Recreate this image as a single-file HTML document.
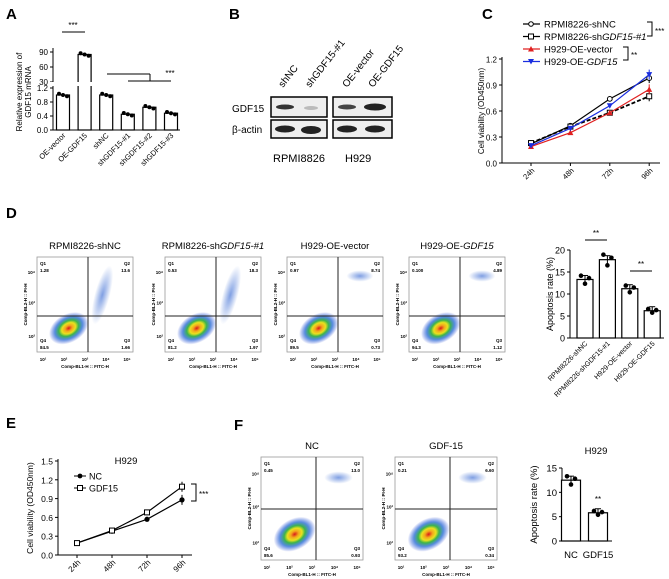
<!DOCTYPE html>
<html><head><meta charset="utf-8"><style>
html,body{margin:0;padding:0;background:#fff}
svg{display:block;font-family:"Liberation Sans",Arial,sans-serif}
</style></head><body>
<svg id="fig" width="669" height="579" viewBox="0 0 669 579">
<defs>
<radialGradient id="heat" cx="50%" cy="50%" r="50%">
<stop offset="0" stop-color="#d7191c"/><stop offset="0.18" stop-color="#f4a51c"/><stop offset="0.35" stop-color="#e8e21f"/><stop offset="0.5" stop-color="#3cb44b"/><stop offset="0.7" stop-color="#2b6fd6" stop-opacity="0.8"/><stop offset="1" stop-color="#2b4bd6" stop-opacity="0"/>
</radialGradient>
<radialGradient id="blue" cx="50%" cy="50%" r="50%">
<stop offset="0" stop-color="#2a5fd0" stop-opacity="0.6"/><stop offset="1" stop-color="#2a5fd0" stop-opacity="0"/>
</radialGradient>
</defs>
<g font-weight="bold" font-size="15">
<text x="6" y="19">A</text>
<text x="229" y="19">B</text>
<text x="482" y="19">C</text>
<text x="6" y="218">D</text>
<text x="6" y="428">E</text>
<text x="234" y="430">F</text>
</g>
<g id="pA"></g>
<g id="pB">
<g font-size="10" fill="#000">
<text transform="translate(283,88) rotate(-52)">shNC</text>
<text transform="translate(310,88) rotate(-52)">shGDF15-#1</text>
<text transform="translate(347,88) rotate(-52)">OE-vector</text>
<text transform="translate(373,88) rotate(-52)">OE-GDF15</text>
<text x="232" y="112">GDF15</text>
<text x="232" y="133">β-actin</text>
<text x="273" y="162" font-size="11">RPMI8826</text>
<text x="345" y="162" font-size="11">H929</text>
</g>
<rect x="271" y="97" width="56" height="20" fill="#eee" stroke="#000" stroke-width="1.5"/>
<rect x="271" y="120" width="56" height="18" fill="#eee" stroke="#000" stroke-width="1.5"/>
<rect x="333" y="97" width="59" height="20" fill="#eee" stroke="#000" stroke-width="1.5"/>
<rect x="333" y="120" width="59" height="18" fill="#eee" stroke="#000" stroke-width="1.5"/>
<ellipse cx="285" cy="107" rx="9" ry="2.5" fill="#333"/>
<ellipse cx="311" cy="108" rx="7" ry="2" fill="#bbb"/>
<ellipse cx="285" cy="129" rx="10" ry="3.5" fill="#222"/>
<ellipse cx="311" cy="130" rx="10" ry="4" fill="#222"/>
<ellipse cx="347" cy="107" rx="9" ry="2.5" fill="#444"/>
<ellipse cx="375" cy="107" rx="11" ry="3.5" fill="#222"/>
<ellipse cx="347" cy="129" rx="10" ry="3.5" fill="#222"/>
<ellipse cx="375" cy="129" rx="10" ry="3.5" fill="#222"/>
</g>
<g id="pC"></g>
<g id="pD"></g>
<g id="pD2"></g>
<g id="pE"></g>
<g id="pF"></g>
<g id="pF2"></g>
</svg>
<script>
// Panel A data
const aCats=["OE-vector","OE-GDF15","shNC","shGDF15-#1","shGDF15-#2","shGDF15-#3"];
const aVals=[1.0,85,1.0,0.45,0.65,0.48];
const aLowTicks=[0,0.4,0.8,1.2];
const aHighTicks=[30,60,90];
// Panel C data
const cTimes=["24h","48h","72h","96h"];
const cShNC=[0.22,0.43,0.74,0.98];
const cShGDF=[0.23,0.42,0.58,0.77];
const cVector=[0.19,0.35,0.58,0.85];
const cOE=[0.20,0.40,0.66,1.02];
const cTicks=[0,0.3,0.6,0.9,1.2];
// Panel D bar data
const dCats=["RPMI8226-shNC","RPMI8226-shGDF15-#1","H929-OE-vector","H929-OE-GDF15"];
const dVals=[13.3,17.8,11.2,6.2];
const dTicks=[0,5,10,15,20];
// Panel E data
const eTimes=["24h","48h","72h","96h"];
const eNC=[0.19,0.38,0.57,0.88];
const eGDF=[0.19,0.39,0.68,1.09];
const eTicks=[0,0.3,0.6,0.9,1.2,1.5];
// Panel F bar data
const fCats=["NC","GDF15"];
const fVals=[12.5,5.8];
const fTicks=[0,5,10,15];
// flow quadrant values
const dFlow=[["1.28","13.6","84.5","1.66"],["0.53","18.3","81.2","1.97"],["0.97","8.74","89.5","0.73"],["0.100","4.89","94.3","1.12"]];
const fFlow=[["0.45","13.0","85.6","0.93"],["0.21","6.60","93.2","0.34"]];

const NS="http://www.w3.org/2000/svg";
function mk(p,t,a,txt){const e=document.createElementNS(NS,t);for(const k in a)e.setAttribute(k,a[k]);if(txt!==undefined)e.textContent=txt;p.appendChild(e);return e;}
function line(p,x1,y1,x2,y2,c,w,d){const e=mk(p,"line",{x1,y1,x2,y2,stroke:c||"#000","stroke-width":w||1});if(d)e.setAttribute("stroke-dasharray",d);return e;}

// ---------- Panel A
(function(){
const g=document.getElementById("pA");
const ax=53, yl=v=>130-v*35, yh=v=>82-(v-30)*15/30*1.0;
const xs=i=>63+i*21.6;
line(g,ax,86,ax,130);line(g,ax,48,ax,82);
line(g,ax,130,180,130);
aLowTicks.forEach(t=>{line(g,ax-3,yl(t),ax,yl(t));const e=mk(g,"text",{x:ax-5,y:yl(t)+3,"font-size":8,"text-anchor":"end"},t.toFixed(1));});
aHighTicks.forEach(t=>{line(g,ax-3,yh(t),ax,yh(t));const e=mk(g,"text",{x:ax-5,y:yh(t)+3,"font-size":8,"text-anchor":"end"},t);});
const yt=mk(g,"text",{transform:"translate(22,92) rotate(-90)","font-size":8,"text-anchor":"middle"},"Relative expression of");

const yt2=mk(g,"text",{transform:"translate(31,92) rotate(-90)","font-size":8,"text-anchor":"middle"},"GDF15 mRNA");

aVals.forEach((v,i)=>{const x=xs(i);let top=v>1.2?yh(v):yl(v);
const r=mk(g,"rect",{x:x-6.5,y:top,width:13,height:130-top,fill:"#fff",stroke:"#000","stroke-width":1.2});

if(v>1.2){mk(g,"rect",{x:x-8,y:82,width:16,height:4,fill:"#fff"});}
[-4,0,4].forEach((dx,k)=>mk(g,"circle",{cx:x+dx,cy:top+(k-1)*1.2,r:2,fill:"#000"}));
const lb=mk(g,"text",{transform:`translate(${x+3},136) rotate(-45)`,"font-size":7.5,"text-anchor":"end"},aCats[i]);
});
mk(g,"rect",{x:ax-3,y:82,width:6,height:4,fill:"#fff"});
line(g,62,32,85,32);mk(g,"text",{x:73,y:28,"font-size":8,"text-anchor":"middle"},"***");
line(g,107,74,150,74);line(g,150,74,150,81);line(g,128,81,171,81);
mk(g,"text",{x:170,y:76,"font-size":8,"text-anchor":"middle"},"***");
})();

// ---------- line chart helper
function lineChart(g,cfg){
const {ax,y0,ymax,vmax,xs,ticks,cats}=cfg;const y=v=>y0-(v/vmax)*(y0-ymax);
line(g,ax,ymax-2,ax,y0);line(g,ax,y0,cfg.xend,y0);
ticks.forEach(t=>{line(g,ax-3,y(t),ax,y(t));const e=mk(g,"text",{x:ax-5,y:y(t)+3.5,"font-size":cfg.fs,"text-anchor":"end"},t.toFixed(1));});
cats.forEach((c,i)=>{line(g,xs(i),y0,xs(i),y0+3);const e=mk(g,"text",{transform:`translate(${xs(i)+4},${y0+8}) rotate(-45)`,"font-size":cfg.fs-0.5,"text-anchor":"end"},c);});
const t=mk(g,"text",{transform:`translate(${cfg.ytx},${(y0+ymax)/2}) rotate(-90)`,"font-size":cfg.fs,"text-anchor":"middle"},"Cell viability ("+cfg.unit+")");

cfg.series.forEach(s=>{const pts=s.v.map((v,i)=>xs(i)+","+y(v)).join(" ");
const pl=mk(g,"polyline",{points:pts,fill:"none",stroke:s.c,"stroke-width":s.w||1.2});if(s.d)pl.setAttribute("stroke-dasharray",s.d);

s.v.forEach((v,i)=>{const cx=xs(i),cy=y(v);line(g,cx,cy-(i==3?5:1.5),cx,cy+(i==3?5:1.5),s.c,1);
let m;if(s.m=="o")m=mk(g,"circle",{cx,cy,r:2.4,fill:"#fff",stroke:s.c});
else if(s.m=="sq")m=mk(g,"rect",{x:cx-2.5,y:cy-2.5,width:5,height:5,fill:"#fff",stroke:s.c});
else if(s.m=="dot")m=mk(g,"circle",{cx,cy,r:2.6,fill:s.c});
else if(s.m=="tri")m=mk(g,"polygon",{points:`${cx},${cy-3} ${cx-3},${cy+2.5} ${cx+3},${cy+2.5}`,fill:s.c});
else m=mk(g,"polygon",{points:`${cx},${cy+3} ${cx-3},${cy-2.5} ${cx+3},${cy-2.5}`,fill:s.c});
});});
return y;}

// ---------- Panel C
(function(){
const g=document.getElementById("pC");
lineChart(g,{ax:502,y0:163,ymax:59,vmax:1.2,xend:660,xs:i=>531+i*39.4,ticks:cTicks,cats:cTimes,fs:8,ytx:484,unit:"OD450nm",
series:[{n:"rpmi-shnc",v:cShNC,c:"#000",m:"o"},{n:"rpmi-shgdf15",v:cShGDF,c:"#000",m:"sq",d:"4,2",w:1.8},{n:"h929-oe-vector",v:cVector,c:"#e02020",m:"tri"},{n:"h929-oe-gdf15",v:cOE,c:"#1a2ee0",m:"dtri"}]});
const L=[["RPMI8226-shNC","#000","o"],["RPMI8226-sh","#000","sq","GDF15-#1"],["H929-OE-vector","#e02020","tri"],["H929-OE-","#1a2ee0","dtri","GDF15"]];
L.forEach((l,i)=>{const yy=24+i*12.5;line(g,523,yy,540,yy,l[1],1.2);
const cx=531;if(l[2]=="o")mk(g,"circle",{cx,cy:yy,r:2.3,fill:"#fff",stroke:l[1]});else if(l[2]=="sq")mk(g,"rect",{x:cx-2.5,y:yy-2.5,width:5,height:5,fill:"#fff",stroke:"#000"});else if(l[2]=="tri")mk(g,"polygon",{points:`${cx},${yy-3} ${cx-3},${yy+2.5} ${cx+3},${yy+2.5}`,fill:l[1]});else mk(g,"polygon",{points:`${cx},${yy+3} ${cx-3},${yy-2.5} ${cx+3},${yy-2.5}`,fill:l[1]});
const t=mk(g,"text",{x:544,y:yy+3.5,"font-size":9.5},l[0]);if(l[3]){const ts=mk(t,"tspan",{"font-style":"italic"},l[3]);}
});
mk(g,"polyline",{points:"647,22 652,22 652,36 647,36",fill:"none",stroke:"#000"});mk(g,"text",{x:655,y:34,"font-size":8},"***");
mk(g,"polyline",{points:"623,47 628,47 628,60 623,60",fill:"none",stroke:"#000"});mk(g,"text",{x:631,y:58,"font-size":8},"**");
})();

// ---------- Flow plot helper
function flow(g,x0,y0,w,h,title,vals,vx,hy,pattern){
const gg=mk(g,"g",{});
const t=mk(gg,"text",{x:x0+w/2,y:y0-8,"font-size":9.5,"text-anchor":"middle"},title[0]);if(title[1])mk(t,"tspan",{"font-style":"italic"},title[1]);
mk(gg,"rect",{x:x0,y:y0,width:w,height:h,fill:"#fff",stroke:"#999","stroke-width":0.8});
const bx=x0+w*0.33,by=y0+h*0.75;
mk(gg,"ellipse",{cx:bx,cy:by,rx:w*0.22,ry:h*0.15,fill:"url(#heat)",transform:`rotate(-30 ${bx} ${by})`});
if(pattern=="diag"){mk(gg,"ellipse",{cx:x0+w*0.68,cy:y0+h*0.4,rx:w*0.08,ry:h*0.32,fill:"url(#blue)",transform:`rotate(15 ${x0+w*0.68} ${y0+h*0.4})`});}
else{mk(gg,"ellipse",{cx:x0+w*0.76,cy:y0+h*0.2,rx:w*0.14,ry:h*0.06,fill:"url(#blue)"});}
line(gg,vx,y0,vx,y0+h,"#222",1);line(gg,x0,hy,x0+w,hy,"#222",1);
const fs=4.5;
mk(gg,"text",{x:x0+3,y:y0+8,"font-size":fs,"font-weight":"bold"},"Q1");mk(gg,"text",{x:x0+3,y:y0+15,"font-size":fs,"font-weight":"bold"},vals[0]);
mk(gg,"text",{x:x0+w-3,y:y0+8,"font-size":fs,"font-weight":"bold","text-anchor":"end"},"Q2");mk(gg,"text",{x:x0+w-3,y:y0+15,"font-size":fs,"font-weight":"bold","text-anchor":"end"},vals[1]);
mk(gg,"text",{x:x0+3,y:y0+h-10,"font-size":fs,"font-weight":"bold"},"Q4");mk(gg,"text",{x:x0+3,y:y0+h-3,"font-size":fs,"font-weight":"bold"},vals[2]);
mk(gg,"text",{x:x0+w-3,y:y0+h-10,"font-size":fs,"font-weight":"bold","text-anchor":"end"},"Q3");mk(gg,"text",{x:x0+w-3,y:y0+h-3,"font-size":fs,"font-weight":"bold","text-anchor":"end"},vals[3]);
["1","2","3","4","5"].forEach((p,i)=>{const xx=x0+6+i*(w-12)/4;mk(gg,"text",{x:xx,y:y0+h+9,"font-size":4.5,"font-weight":"bold","text-anchor":"middle"},"10"+String.fromCharCode([0xB9,0xB2,0xB3,0x2074,0x2075][i]));});
mk(gg,"text",{x:x0+w/2,y:y0+h+16,"font-size":4.5,"font-weight":"bold","text-anchor":"middle"},"Comp-BL1-H :: FITC-H");
mk(gg,"text",{transform:`translate(${x0-10},${y0+h/2}) rotate(-90)`,"font-size":4.5,"font-weight":"bold","text-anchor":"middle"},"Comp-BL2-H :: PI-H");
[[0.85,"10\u00B2"],[0.5,"10\u00B3"],[0.18,"10\u2074"]].forEach(a=>mk(gg,"text",{x:x0-2,y:y0+h*a[0],"font-size":4.5,"font-weight":"bold","text-anchor":"end"},a[1]));
}
(function(){const g=document.getElementById("pD");
const T=[["RPMI8226-shNC"],["RPMI8226-sh","GDF15-#1"],["H929-OE-vector"],["H929-OE-","GDF15"]];
const X=[37,165,287,409];
X.forEach((x,i)=>flow(g,x,257,96,95,T[i],dFlow[i],x+51,316,i<2?"diag":"top"));})();

// ---------- bar chart helper
function barChart(g,cfg){const {ax,y0,ytop,vmax,xs,bw,ticks,cats,vals}=cfg;const y=v=>y0-v/vmax*(y0-ytop);
line(g,ax,ytop,ax,y0);line(g,ax,y0,cfg.xend,y0);
ticks.forEach(t=>{line(g,ax-3,y(t),ax,y(t));const e=mk(g,"text",{x:ax-5,y:y(t)+3.5,"font-size":cfg.fs,"text-anchor":"end"},t);});
const t=mk(g,"text",{transform:`translate(${cfg.ytx},${(y0+ytop)/2}) rotate(-90)`,"font-size":cfg.fs,"text-anchor":"middle"},"Apoptosis rate (%)");

vals.forEach((v,i)=>{const x=xs(i);const r=mk(g,"rect",{x:x-bw/2,y:y(v),width:bw,height:y0-y(v),fill:"#fff",stroke:"#000","stroke-width":1.2});

line(g,x,y(v)-4,x,y(v)+4);line(g,x-3,y(v)-4,x+3,y(v)-4);
[[-4,0.8],[0,-0.9],[4,0.3]].forEach(p=>mk(g,"circle",{cx:x+p[0],cy:y(v*(1+p[1]*0.08)),r:2.3,fill:"#000"}));
let lb;if(cfg.rot)lb=mk(g,"text",{transform:`translate(${x+3},${y0+6}) rotate(-45)`,"font-size":7,"text-anchor":"end"},cats[i]);
else lb=mk(g,"text",{x:x,y:y0+17,"font-size":9.5,"text-anchor":"middle"},cats[i]);
});return y;}

(function(){const g=document.getElementById("pD2");
barChart(g,{ax:570,y0:338,ytop:250,vmax:20,xs:i=>585+i*22.4,bw:16,ticks:dTicks,cats:dCats,vals:dVals,fs:9,ytx:553,xend:664,rot:true});
line(g,585,240,607,240);mk(g,"text",{x:596,y:236,"font-size":8,"text-anchor":"middle"},"**");
line(g,630,271,652,271);mk(g,"text",{x:641,y:267,"font-size":8,"text-anchor":"middle"},"**");})();

(function(){const g=document.getElementById("pE");
lineChart(g,{ax:58,y0:555,ymax:461,vmax:1.5,xend:192,xs:i=>77+i*35,ticks:eTicks,cats:eTimes,fs:8.5,ytx:33,unit:"OD450nm",
series:[{n:"nc",v:eNC,c:"#000",m:"dot"},{n:"gdf15",v:eGDF,c:"#000",m:"sq"}]});
mk(g,"text",{x:126,y:464,"font-size":9.5,"text-anchor":"middle"},"H929");
line(g,74,476,86,476);mk(g,"circle",{cx:80,cy:476,r:2.4,fill:"#000"});mk(g,"text",{x:89,y:479.5,"font-size":9},"NC");
line(g,74,488,86,488);mk(g,"rect",{x:77.5,y:485.5,width:5,height:5,fill:"#fff",stroke:"#000"});mk(g,"text",{x:89,y:491.5,"font-size":9},"GDF15");
mk(g,"polyline",{points:"191,484 196,484 196,501 191,501",fill:"none",stroke:"#000"});mk(g,"text",{x:199,y:497,"font-size":8},"***");})();

(function(){const g=document.getElementById("pF");
flow(g,261,457,102,103,["NC"],fFlow[0],316,509,"top");
flow(g,395,457,102,103,["GDF-15"],fFlow[1],450,509,"top");})();

(function(){const g=document.getElementById("pF2");
barChart(g,{ax:562,y0:541,ytop:468,vmax:15,xs:i=>571+i*27,bw:19,ticks:fTicks,cats:fCats,vals:fVals,fs:9.5,ytx:537,xend:612,rot:false});
mk(g,"text",{x:596,y:454,"font-size":9.5,"text-anchor":"middle"},"H929");
mk(g,"text",{x:598,y:502,"font-size":8,"text-anchor":"middle"},"**");})();
</script>
</body></html>
